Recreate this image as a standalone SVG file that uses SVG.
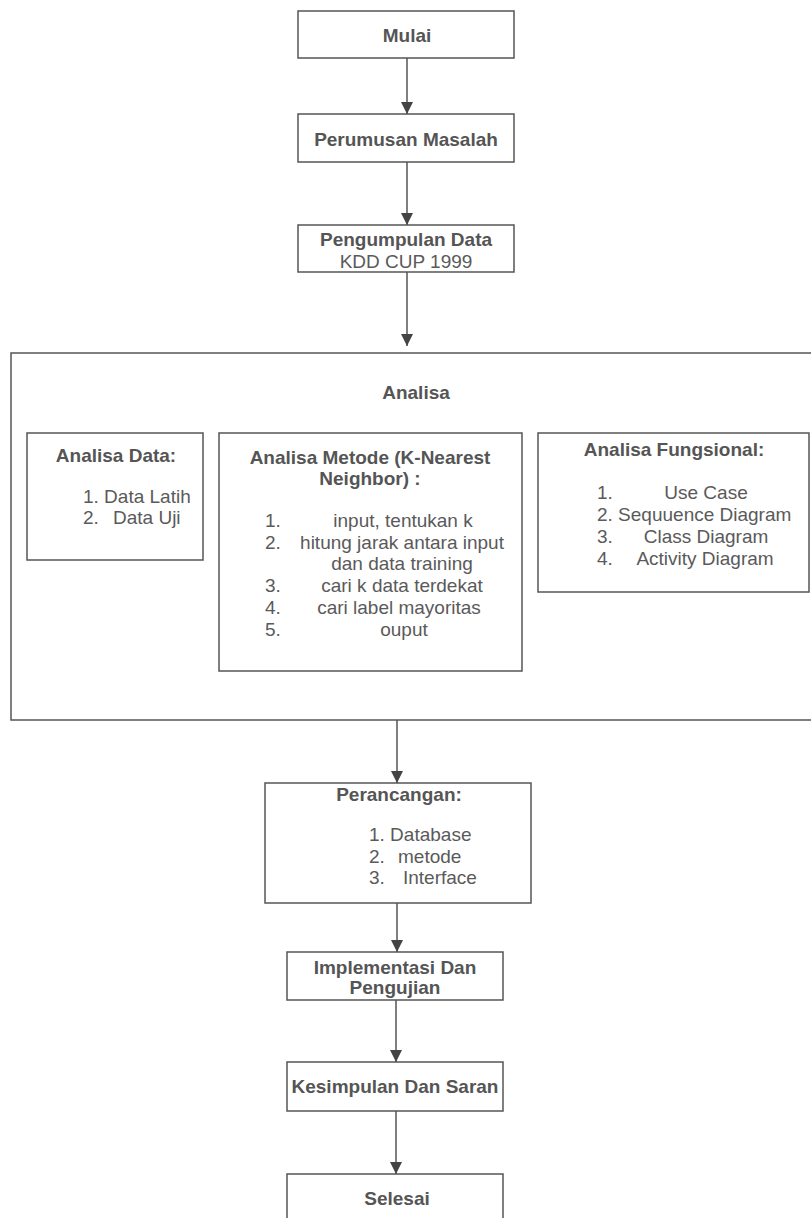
<svg xmlns="http://www.w3.org/2000/svg" width="811" height="1218" viewBox="0 0 811 1218">
<style>
.box{fill:#fff;stroke:#555;stroke-width:1.5}
.h{font-family:"Liberation Sans",Arial,sans-serif;font-size:19px;font-weight:bold;fill:#555}
.t{font-family:"Liberation Sans",Arial,sans-serif;font-size:19px;fill:#5a5a5a}
.c{text-anchor:middle}
.conn line{stroke:#555;stroke-width:1.5;marker-end:url(#arr)}
</style>
<defs>
<marker id="arr" markerUnits="userSpaceOnUse" markerWidth="12" markerHeight="13" viewBox="0 0 12 13" refX="12" refY="6.5" orient="auto">
<path d="M0,0.5 L12,6.5 L0,12.5 z" fill="#444"/>
</marker>
</defs>
<rect width="811" height="1218" fill="#fff"/>
<g id="mulai"><rect class="box" x="298" y="11" width="216" height="47"/><text class="h c" x="407" y="42">Mulai</text></g>
<g id="perumusan"><rect class="box" x="298" y="114" width="216" height="48"/><text class="h c" x="406" y="146">Perumusan Masalah</text></g>
<g id="pengumpulan"><rect class="box" x="298" y="225" width="216" height="47"/><text class="h c" x="406" y="246">Pengumpulan Data</text><text class="t c" x="406" y="268">KDD CUP 1999</text></g>
<g id="analisa"><rect class="box" x="11" y="353" width="812" height="367"/><text class="h c" x="416" y="399">Analisa</text></g>
<g id="analisa-data"><rect class="box" x="27" y="433" width="176" height="127"/>
<text class="h c" x="116" y="462">Analisa Data:</text>
<text class="t" x="83" y="503">1. Data Latih</text>
<text class="t" x="83" y="524">2.</text><text class="t" x="113" y="524">Data Uji</text></g>
<g id="analisa-metode"><rect class="box" x="219" y="433" width="303" height="238"/>
<text class="h c" x="370" y="464">Analisa Metode (K-Nearest</text>
<text class="h c" x="370" y="485">Neighbor) :</text>
<text class="t" x="265" y="527">1.</text><text class="t c" x="403" y="527">input, tentukan k</text>
<text class="t" x="265" y="549">2.</text><text class="t c" x="402" y="549">hitung jarak antara input</text>
<text class="t c" x="402" y="570">dan data training</text>
<text class="t" x="265" y="592">3.</text><text class="t c" x="402" y="592">cari k data terdekat</text>
<text class="t" x="265" y="614">4.</text><text class="t c" x="399" y="614">cari label mayoritas</text>
<text class="t" x="265" y="636">5.</text><text class="t c" x="404" y="636">ouput</text></g>
<g id="analisa-fungsional"><rect class="box" x="538" y="433" width="271" height="159"/>
<text class="h c" x="674" y="456">Analisa Fungsional:</text>
<text class="t" x="597" y="499">1.</text><text class="t c" x="706" y="499">Use Case</text>
<text class="t" x="597" y="521">2. Sequuence Diagram</text>
<text class="t" x="597" y="543">3.</text><text class="t c" x="706" y="543">Class Diagram</text>
<text class="t" x="597" y="565">4.</text><text class="t c" x="705" y="565">Activity Diagram</text></g>
<g id="perancangan"><rect class="box" x="265" y="783" width="266" height="120"/>
<text class="h c" x="399" y="801">Perancangan:</text>
<text class="t" x="369" y="841">1. Database</text>
<text class="t" x="369" y="863">2.</text><text class="t" x="398" y="863">metode</text>
<text class="t" x="369" y="884">3.</text><text class="t" x="403" y="884">Interface</text></g>
<g id="implementasi"><rect class="box" x="287" y="952" width="216" height="48"/>
<text class="h c" x="395" y="974">Implementasi Dan</text><text class="h c" x="395" y="994">Pengujian</text></g>
<g id="kesimpulan"><rect class="box" x="287" y="1062" width="216" height="49"/><text class="h c" x="395" y="1093">Kesimpulan Dan Saran</text></g>
<g id="selesai"><rect class="box" x="287" y="1174" width="216" height="60"/><text class="h c" x="397" y="1205">Selesai</text></g>
<g id="connectors" class="conn">
<line x1="407" y1="58" x2="407" y2="114"/>
<line x1="407" y1="162" x2="407" y2="225"/>
<line x1="407" y1="272" x2="407" y2="346"/>
<line x1="397" y1="720" x2="397" y2="783"/>
<line x1="397" y1="903" x2="397" y2="952"/>
<line x1="396" y1="1000" x2="396" y2="1062"/>
<line x1="396" y1="1111" x2="396" y2="1174"/>
</g>
</svg>
